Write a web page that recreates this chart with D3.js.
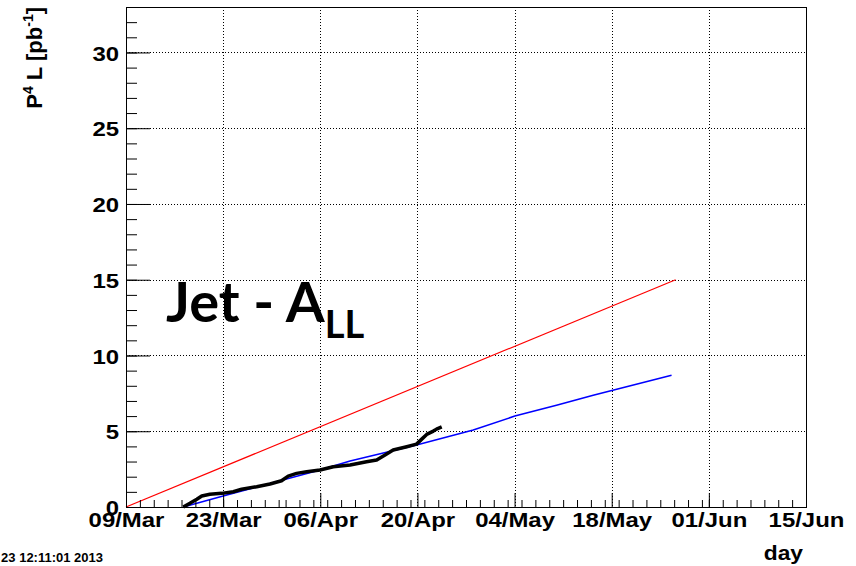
<!DOCTYPE html>
<html>
<head>
<meta charset="utf-8">
<script src="https://cdn.jsdelivr.net/npm/d3@7"></script>
<style>
  html, body { margin: 0; padding: 0; background: #fff; }
  svg { display: block; }
  .lab { font-family: "Liberation Sans", Arial, sans-serif; font-weight: bold; fill: #000; }
</style>
</head>
<body>
<div id="chart"></div>
<script>
// ---------- data ----------
const xTickDates = ["2013-03-09","2013-03-23","2013-04-06","2013-04-20","2013-05-04","2013-05-18","2013-06-01","2013-06-15"];
const xTickLabels = ["09/Mar","23/Mar","06/Apr","20/Apr","04/May","18/May","01/Jun","15/Jun"];
const yTickValues = [0, 5, 10, 15, 20, 25, 30];
const yTickLabels = ["0","5","10","15","20","25","30"];

// projected (red) goal line
const redDates  = ["2013-03-09T00","2013-05-27T05"];
const redValues = [0, 15];

// projected (blue) line
const blueDates  = ["2013-03-17T06","2013-03-23T00","2013-04-05T23","2013-04-10T07","2013-04-19T21","2013-04-28T01","2013-05-04T01","2013-05-10T01","2013-05-15T08","2013-05-26T15"];
const blueValues = [0, 0.73, 2.44, 3.03, 4.09, 5.08, 6.0, 6.72, 7.38, 8.70];

// delivered (black) P^4 L
const blackDates  = ["2013-03-17T06","2013-03-18T05","2013-03-19T05","2013-03-19T22","2013-03-21T02","2013-03-22T19","2013-03-24T11","2013-03-25T16","2013-03-27T20","2013-03-29T18","2013-03-31T10","2013-04-01T09","2013-04-02T14","2013-04-04T01","2013-04-05T23","2013-04-07T21","2013-04-10T07","2013-04-12T16","2013-04-14T03","2013-04-15T08","2013-04-16T12","2013-04-18T11","2013-04-19T21","2013-04-20T15","2013-04-21T08","2013-04-22T07","2013-04-22T18","2013-04-23T12"];
const blackValues = [0, 0.24, 0.51, 0.73, 0.84, 0.90, 1.01, 1.17, 1.34, 1.52, 1.73, 2.04, 2.22, 2.33, 2.44, 2.66, 2.77, 2.99, 3.10, 3.43, 3.76, 3.98, 4.15, 4.48, 4.79, 5.01, 5.14, 5.29];

// ---------- layout ----------
const W = 856, H = 566;
const pL = 126, pR = 806, pT = 7, pB = 507;
const xDomain = ["2013-03-09", "2013-06-15"];
const yMax = 33;
const STRETCH = 1.14;

const parseDay = d3.utcParse("%Y-%m-%d");
const parseHr = d3.utcParse("%Y-%m-%dT%H");

const x = d3.scaleUtc().domain(xDomain.map(parseDay)).range([pL, pR]);
const y = d3.scaleLinear().domain([0, yMax]).range([pB, pT]);

const svg = d3.select("#chart").append("svg").attr("width", W).attr("height", H);

function stretch(sel, f) {
  sel.each(function() {
    const L = this.getComputedTextLength();
    d3.select(this).attr("textLength", L * (f || STRETCH)).attr("lengthAdjust", "spacingAndGlyphs");
  });
}

// grid
const xMajor = xTickDates.map(parseDay);
const grid = svg.append("g").attr("stroke", "#000").attr("stroke-width", 1).attr("stroke-dasharray", "1,2");
grid.selectAll("line.v").data(xMajor.slice(1, -1)).join("line").attr("class", "v")
  .attr("x1", d => Math.round(x(d)) + 0.5).attr("x2", d => Math.round(x(d)) + 0.5)
  .attr("y1", pT).attr("y2", pB);
grid.selectAll("line.h").data(yTickValues.slice(1)).join("line").attr("class", "h")
  .attr("y1", d => Math.round(y(d)) + 0.5).attr("y2", d => Math.round(y(d)) + 0.5)
  .attr("x1", pL).attr("x2", pR);

// lines
const line = d3.line().x(d => x(d[0])).y(d => y(d[1]));
function series(dates, vals) { return dates.map((d, i) => [parseHr(d), vals[i]]); }
svg.append("path").datum(series(redDates, redValues)).attr("d", line)
  .attr("fill", "none").attr("stroke", "#ff0000").attr("stroke-width", 1.2);
svg.append("path").datum(series(blueDates, blueValues)).attr("d", line)
  .attr("fill", "none").attr("stroke", "#0000ff").attr("stroke-width", 1.5);
svg.append("path").datum(series(blackDates, blackValues)).attr("d", line)
  .attr("fill", "none").attr("stroke", "#000").attr("stroke-width", 3.5).attr("stroke-linejoin", "round");

// axes: minor ticks
const yMinor = d3.range(0, yMax + 0.001, 1);
svg.append("g").attr("transform", `translate(${pL},0)`)
  .call(d3.axisLeft(y).tickValues(yMinor).tickSizeInner(-11).tickSizeOuter(0).tickFormat(""))
  .call(g => g.select(".domain").remove())
  .call(g => g.selectAll("line").attr("stroke", "#000"));
const xMinor = d3.utcDay.every(2).range(parseDay(xDomain[0]), d3.utcDay.offset(parseDay(xDomain[1]), 1));
svg.append("g").attr("transform", `translate(0,${pB})`)
  .call(d3.axisBottom(x).tickValues(xMinor).tickSizeInner(-7).tickSizeOuter(0).tickFormat(""))
  .call(g => g.select(".domain").remove())
  .call(g => g.selectAll("line").attr("stroke", "#000"));

// major ticks with labels
const yAxis = svg.append("g").attr("transform", `translate(${pL},0)`)
  .call(d3.axisLeft(y).tickValues(yTickValues).tickSizeInner(-24).tickSizeOuter(0).tickPadding(7)
        .tickFormat((d, i) => yTickLabels[i]))
  .call(g => g.select(".domain").remove())
  .call(g => g.selectAll("line").attr("stroke", "#000"));
yAxis.selectAll("text").attr("class", "lab").attr("font-size", 21).attr("font-family", null).attr("dy", "0.36em")
  .call(stretch);

const xAxis = svg.append("g").attr("transform", `translate(0,${pB})`)
  .call(d3.axisBottom(x).tickValues(xMajor).tickSizeInner(-14).tickSizeOuter(0).tickPadding(6)
        .tickFormat((d, i) => xTickLabels[i]))
  .call(g => g.select(".domain").remove())
  .call(g => g.selectAll("line").attr("stroke", "#000"));
xAxis.selectAll("text").attr("class", "lab").attr("font-size", 21).attr("font-family", null).attr("dy", "0.68em")
  .call(stretch);

// frame
svg.append("rect").attr("x", pL + 0.5).attr("y", pT + 0.5)
  .attr("width", pR - pL).attr("height", pB - pT)
  .attr("fill", "none").attr("stroke", "#000").attr("stroke-width", 1);

// axis titles
svg.append("text").attr("class", "lab").attr("font-size", 20)
  .attr("x", 803).attr("y", 560).attr("text-anchor", "end").text("day").call(stretch);

const yt = svg.append("text").attr("class", "lab").attr("font-size", 22)
  .attr("transform", "translate(42,7) rotate(-90)").attr("text-anchor", "end");
yt.append("tspan").text("P");
yt.append("tspan").attr("font-size", 14).attr("dy", -9).text("4");
yt.append("tspan").attr("dy", 9).text(" L [pb");
yt.append("tspan").attr("font-size", 14).attr("dy", -9).text("-1");
yt.append("tspan").attr("dy", 9).text("]");

// timestamp (partially off-page)
svg.append("text").attr("class", "lab").attr("font-size", 13)
  .attr("x", 103).attr("y", 562).attr("text-anchor", "end").text("Tue Apr 23 12:11:01 2013");

// big overlay title
const t = svg.append("text").attr("x", 166).attr("y", 322)
  .attr("font-family", "Lato, 'Open Sans', sans-serif").attr("font-weight", "bold").attr("font-size", 56).attr("fill", "#000");
t.append("tspan").text("Jet - A");
t.append("tspan").attr("font-size", 38).attr("dy", 16).text("LL");
</script>
</body>
</html>
